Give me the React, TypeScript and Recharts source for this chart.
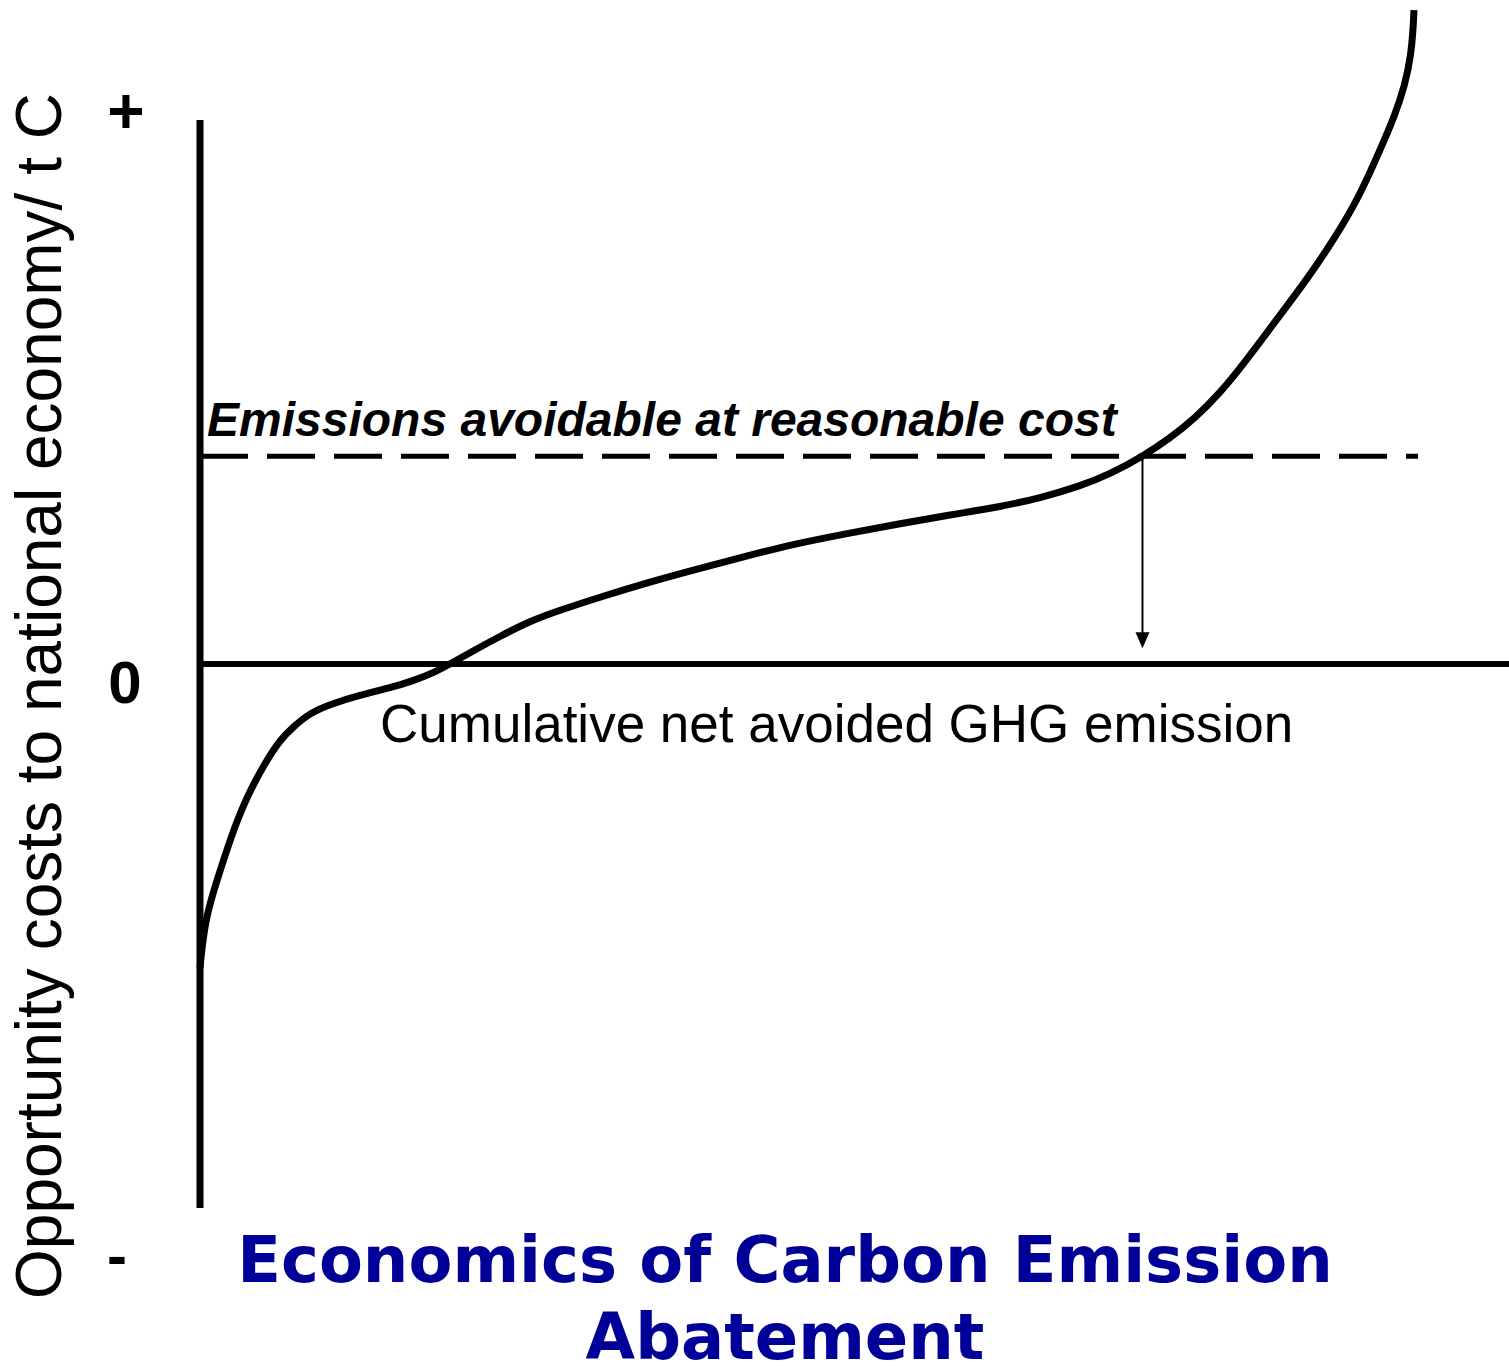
import { LineChart, Line, XAxis, YAxis, ReferenceLine } from "recharts";

// abatement cost curve (x: cumulative avoided emission, y: cost / t C)
const CURVE_X = [
  0, 0.15, 0.53, 1.3, 2.67, 3.82, 5.12, 6.11, 7.1, 8.4, 9.93, 12.22, 14.52, 16.27, 17.95, 19.25,
  21.01, 22.92, 25.21, 27.5, 30.56, 34.38, 38.2, 42.02, 45.07, 49.66, 53.48, 57.3, 61.12, 64.17,
  67.23, 69.52, 72.04, 74.1, 76.01, 77.92, 79.83, 82.12, 84.42, 86.71, 88.62, 90.15, 91.29, 92.05,
  92.51, 92.67, 92.74,
];
const CURVE_Y = [
  -55.9, -52.0, -45.8, -39.7, -29.6, -23.2, -17.6, -14.0, -11.6, -9.0, -7.4, -5.7, -4.4, -3.1, -1.5,
  0.2, 2.6, 5.1, 7.9, 9.9, 12.3, 15.1, 17.6, 20.0, 21.9, 24.1, 25.8, 27.4, 28.9, 30.5, 32.7, 34.9,
  38.2, 41.5, 45.2, 49.8, 55.5, 62.9, 70.2, 78.3, 86.2, 94.5, 100.9, 106.4, 111.9, 116.5, 120.2,
];

const X_DOMAIN = [0, 100];
const Y_DOMAIN = [-129.04, 122.06];
const COST_AXIS = [-100, 100];
const QUANTITY_AXIS = [0, 100];
const REASONABLE_COST = 38.2;
const REASONABLE_END_X = 93.05;
const ARROW_X = 72.0;
const ARROW_TIP_Y = 2.9;

const AXIS_MARKS = ["+", "0", "-"];
const Y_TITLE = "Opportunity costs to national economy/ t C";
const X_TITLE = "Cumulative net avoided GHG emission";
const THRESHOLD_LABEL = "Emissions avoidable at reasonable cost";
const TITLE_LINES = ["Economics of Carbon Emission", "Abatement"];

const W = 1509;
const H = 1366;
const SANS = "'Liberation Sans', Arial, sans-serif";

const data = CURVE_X.map((x, i) => ({ x, y: CURVE_Y[i] }));

function Arrow(props: any) {
  const { x1, y1, x2, y2 } = props;
  return (
    <g>
      <line x1={x1} y1={y1} x2={x2} y2={y2 - 12} stroke="#000" strokeWidth={2} />
      <polygon points={`${x2},${y2} ${x2 - 7},${y2 - 16} ${x2 + 7},${y2 - 16}`} fill="#000" />
    </g>
  );
}

export default function App() {
  return (
    <div style={{ position: "absolute", left: 0, top: 0, width: W, height: H, background: "#fff" }}>
      <LineChart width={W} height={H} data={data} margin={{ top: 0, right: 0, bottom: 0, left: 200 }}>
        <XAxis type="number" dataKey="x" domain={X_DOMAIN} hide />
        <YAxis type="number" domain={Y_DOMAIN} hide />
        <ReferenceLine
          segment={[
            { x: 0, y: COST_AXIS[0] },
            { x: 0, y: COST_AXIS[1] },
          ]}
          stroke="#000"
          strokeWidth={7}
        />
        <ReferenceLine
          segment={[
            { x: QUANTITY_AXIS[0], y: 0 },
            { x: QUANTITY_AXIS[1], y: 0 },
          ]}
          stroke="#000"
          strokeWidth={6}
        />
        <ReferenceLine
          segment={[
            { x: 0, y: REASONABLE_COST },
            { x: REASONABLE_END_X, y: REASONABLE_COST },
          ]}
          stroke="#000"
          strokeWidth={5}
          strokeDasharray="48 19"
        />
        <ReferenceLine
          segment={[
            { x: ARROW_X, y: REASONABLE_COST },
            { x: ARROW_X, y: ARROW_TIP_Y },
          ]}
          shape={Arrow}
        />
        <Line
          type="basis"
          dataKey="y"
          stroke="#000"
          strokeWidth={7}
          dot={false}
          activeDot={false}
          isAnimationActive={false}
        />
      </LineChart>
      <svg
        width={W}
        height={H}
        style={{ position: "absolute", left: 0, top: 0, pointerEvents: "none" }}
      >
        <text
          x={61}
          y={696}
          transform="rotate(-90, 61, 696)"
          textAnchor="middle"
          fontFamily={SANS}
          fontSize={64}
          fill="#000"
        >
          {Y_TITLE}
        </text>
        <text x={126} y={133} textAnchor="middle" fontFamily={SANS} fontWeight="bold" fontSize={64}>
          {AXIS_MARKS[0]}
        </text>
        <text x={125} y={703} textAnchor="middle" fontFamily={SANS} fontWeight="bold" fontSize={60}>
          {AXIS_MARKS[1]}
        </text>
        <text x={117} y={1276} textAnchor="middle" fontFamily={SANS} fontWeight="bold" fontSize={60}>
          {AXIS_MARKS[2]}
        </text>
        <text
          x={207}
          y={436}
          fontFamily={SANS}
          fontWeight="bold"
          fontStyle="italic"
          fontSize={48}
        >
          {THRESHOLD_LABEL}
        </text>
        <text x={380} y={742} fontFamily={SANS} fontSize={53}>
          {X_TITLE}
        </text>
        {TITLE_LINES.map((t, i) => (
          <text
            key={t}
            x={785}
            y={1282 + i * 77}
            textAnchor="middle"
            fontFamily="'DejaVu Sans', Verdana, sans-serif"
            fontWeight="bold"
            fontSize={64}
            fill="#000099"
          >
            {t}
          </text>
        ))}
      </svg>
    </div>
  );
}
